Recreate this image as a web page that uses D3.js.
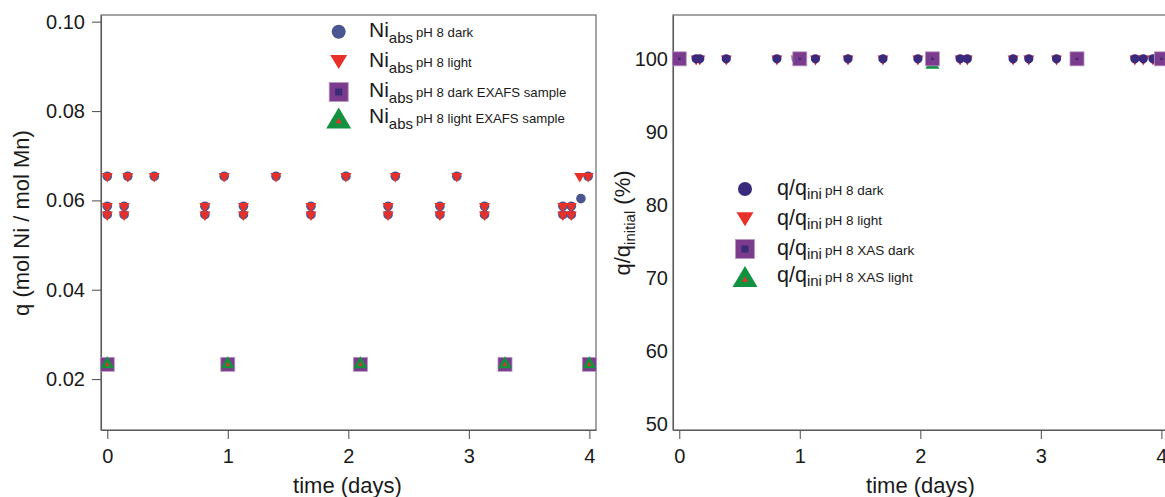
<!DOCTYPE html>
<html>
<head>
<meta charset="utf-8">
<script src="https://cdn.jsdelivr.net/npm/d3@7"></script>
<style>
  html, body { margin: 0; padding: 0; background: #fff; }
  svg { display: block; }
  text { font-family: "Liberation Sans", Arial, Helvetica, sans-serif; fill: #1a1a1a; }
</style>
</head>
<body>
<svg id="chart" width="1165" height="497"></svg>
<script>
// ---------------- DATA ----------------
// Left panel: Ni uptake q (mol Ni / mol Mn) vs time (days)
const darkTime  = [0, 0, 0, 0.14, 0.14, 0.17, 0.39, 0.81, 0.81, 0.97, 1.13, 1.13, 1.40, 1.69, 1.69, 1.98, 2.33, 2.33, 2.39, 2.76, 2.76, 2.90, 3.13, 3.13, 3.78, 3.78, 3.85, 3.85, 3.93, 3.99];
const darkQ     = [0.0654, 0.0587, 0.0568, 0.0587, 0.0568, 0.0654, 0.0654, 0.0587, 0.0568, 0.0654, 0.0587, 0.0568, 0.0654, 0.0587, 0.0568, 0.0654, 0.0587, 0.0568, 0.0654, 0.0587, 0.0568, 0.0654, 0.0587, 0.0568, 0.0587, 0.0568, 0.0587, 0.0568, 0.0604, 0.0654];
const lightTime = [0, 0, 0, 0.14, 0.14, 0.17, 0.39, 0.81, 0.81, 0.97, 1.13, 1.13, 1.40, 1.69, 1.69, 1.98, 2.33, 2.33, 2.39, 2.76, 2.76, 2.90, 3.13, 3.13, 3.78, 3.78, 3.85, 3.85, 3.92, 3.99];
const lightQ    = [0.0654, 0.0587, 0.0568, 0.0587, 0.0568, 0.0654, 0.0654, 0.0587, 0.0568, 0.0654, 0.0587, 0.0568, 0.0654, 0.0587, 0.0568, 0.0654, 0.0587, 0.0568, 0.0654, 0.0587, 0.0568, 0.0654, 0.0587, 0.0568, 0.0587, 0.0568, 0.0587, 0.0568, 0.0654, 0.0654];
const exafsTime   = [0, 1.0, 2.1, 3.3, 4.0];
const exafsDarkQ  = [0.0233, 0.0233, 0.0233, 0.0233, 0.0233];
const exafsLightQ = [0.0233, 0.0233, 0.0233, 0.0233, 0.0233];

// Right panel: q/q_initial (%) vs time (days)
const pctTime      = [0, 0.14, 0.17, 0.39, 0.81, 0.97, 1.13, 1.40, 1.69, 1.98, 2.33, 2.39, 2.77, 2.90, 3.13, 3.78, 3.85, 3.93, 3.99];
const pctDark      = [100, 100, 100, 100, 100, 100, 100, 100, 100, 100, 100, 100, 100, 100, 100, 100, 100, 100, 100];
const pctLight     = [100, 100, 100, 100, 100, 100, 100, 100, 100, 100, 100, 100, 100, 100, 100, 100, 100, 100, 100];
const xasTime      = [0, 1.0, 2.1, 3.3, 4.0];
const xasDarkPct   = [100, 100, 100, 100, 100];
const xasLightPct  = [100, 100, 99.45, 100, 100];

// Tick labels
const xTicks       = [0, 1, 2, 3, 4];
const leftYTicks   = [0.02, 0.04, 0.06, 0.08, 0.10];
const rightYTicks  = [50, 60, 70, 80, 90, 100];

// Legend labels
const leftLegendSub  = ["pH 8 dark", "pH 8 light", "pH 8 dark EXAFS sample", "pH 8 light EXAFS sample"];
const rightLegendSub = ["pH 8 dark", "pH 8 light", "pH 8 XAS dark", "pH 8 XAS light"];

// ---------------- STYLE ----------------
const C = {
  axis: "#5a5a5a",
  darkL: "#4b5690",
  darkR: "#3a2a7e",
  red: "#e8302a",
  purple: "#7b3c8d",
  purpleEdge: "#b896c4",
  inner: "#3a2c78",
  green: "#12923f"
};

const svg = d3.select("#chart");

// marker shape helpers (centred on centroid for triangles)
function triPath(w, h, down) {
  const hw = w / 2;
  if (down) return `M${-hw},${-h / 3}L${hw},${-h / 3}L0,${2 * h / 3}Z`;
  return `M0,${-2 * h / 3}L${hw},${h / 3}L${-hw},${h / 3}Z`;
}
function triBoxPath(w, h, down) {
  const hw = w / 2, hh = h / 2;
  if (down) return `M${-hw},${-hh}L${hw},${-hh}L0,${hh}Z`;
  return `M0,${-hh}L${hw},${hh}L${-hw},${hh}Z`;
}

function drawCircle(g, x, y, r, fill) {
  g.append("circle").attr("cx", x).attr("cy", y).attr("r", r).attr("fill", fill);
}
function drawDown(g, x, y, w, h, box) {
  g.append("path").attr("transform", `translate(${x},${y})`)
    .attr("d", box ? triBoxPath(w, h, true) : triPath(w, h, true)).attr("fill", C.red);
}
function drawSquare(g, x, y, s, inner) {
  g.append("rect").attr("x", x - s / 2).attr("y", y - s / 2).attr("width", s).attr("height", s)
    .attr("fill", C.purple).attr("stroke", C.purpleEdge).attr("stroke-width", 0.8);
  g.append("rect").attr("x", x - inner / 2).attr("y", y - inner / 2).attr("width", inner).attr("height", inner)
    .attr("fill", C.inner);
}
function drawUp(g, x, y, w, h, inner, box) {
  const t = g.append("g").attr("transform", `translate(${x},${y})`);
  t.append("path").attr("d", box ? triBoxPath(w, h, false) : triPath(w, h, false)).attr("fill", C.green);
  const cy = box ? h / 6 : 0;
  t.append("path").attr("transform", `translate(0,${cy})`).attr("d", triPath(inner, inner * 0.9, false)).attr("fill", C.red);
}

// ---------------- PANELS ----------------
const plotTop = 15, plotBottom = 430;
const L = { x0: 101, x1: 596 };
const R = { x0: 673, x1: 1168 };

const xL = d3.scaleLinear().domain([-0.052, 4.055]).range([L.x0, L.x1]);
const yL = d3.scaleLinear().domain([0.0086, 0.1015]).range([plotBottom, plotTop]);
const xR = d3.scaleLinear().domain([-0.052, 4.055]).range([R.x0, R.x1]);
const yR = d3.scaleLinear().domain([49.2, 106]).range([plotBottom, plotTop]);

function styleAxis(g, fs) {
  g.selectAll("path.domain").attr("stroke", C.axis).attr("stroke-width", 1.1);
  g.selectAll(".tick line").attr("stroke", C.axis).attr("stroke-width", 1.1);
  g.selectAll(".tick text").attr("font-size", fs).attr("fill", "#1a1a1a")
    .attr("font-family", '"Liberation Sans", Arial, Helvetica, sans-serif');
}

// Left frame
svg.append("rect").attr("x", L.x0).attr("y", plotTop).attr("width", L.x1 - L.x0).attr("height", plotBottom - plotTop)
  .attr("fill", "none").attr("stroke", C.axis).attr("stroke-width", 1.1);
// Right frame (right side falls off canvas)
svg.append("rect").attr("x", R.x0).attr("y", plotTop).attr("width", R.x1 - R.x0).attr("height", plotBottom - plotTop)
  .attr("fill", "none").attr("stroke", C.axis).attr("stroke-width", 1.1);

// Left axes
const gxL = svg.append("g").attr("transform", `translate(0,${plotBottom})`)
  .call(d3.axisBottom(xL).tickValues(xTicks).tickFormat(d3.format("d")).tickSize(9).tickPadding(10).tickSizeOuter(0));
styleAxis(gxL, 20);
const gyL = svg.append("g").attr("transform", `translate(${L.x0},0)`)
  .call(d3.axisLeft(yL).tickValues(leftYTicks).tickFormat(d3.format(".2f")).tickSize(9).tickPadding(7).tickSizeOuter(0));
styleAxis(gyL, 20);

// Right axes
const gxR = svg.append("g").attr("transform", `translate(0,${plotBottom})`)
  .call(d3.axisBottom(xR).tickValues(xTicks).tickFormat(d3.format("d")).tickSize(9).tickPadding(10).tickSizeOuter(0));
styleAxis(gxR, 20);
const gyR = svg.append("g").attr("transform", `translate(${R.x0},0)`)
  .call(d3.axisLeft(yR).tickValues(rightYTicks).tickFormat(d3.format("d")).tickSize(0).tickPadding(5).tickSizeOuter(0));
styleAxis(gyR, 20);

// Axis titles
svg.append("text").attr("x", (L.x0 + L.x1) / 2 - 1).attr("y", 493).attr("text-anchor", "middle")
  .attr("font-size", 22).text("time (days)");
svg.append("text").attr("x", (R.x0 + R.x1) / 2).attr("y", 493).attr("text-anchor", "middle")
  .attr("font-size", 22).text("time (days)");

svg.append("text").attr("transform", "translate(29,223) rotate(-90)").attr("text-anchor", "middle")
  .attr("font-size", 22).text("q (mol Ni / mol Mn)");

const yt = svg.append("text").attr("transform", "translate(630,223) rotate(-90)").attr("text-anchor", "middle")
  .attr("font-size", 22);
yt.append("tspan").text("q/q");
yt.append("tspan").attr("font-size", 15).attr("dy", 5).text("initial");
yt.append("tspan").attr("dy", -5).text(" (%)");

// ---------------- LEFT DATA ----------------
const gL = svg.append("g");
darkTime.forEach((t, i) => drawCircle(gL, xL(t), yL(darkQ[i]), 4.8, C.darkL));
lightTime.forEach((t, i) => drawDown(gL, xL(t), yL(lightQ[i]), 11, 9.5, false));
exafsTime.forEach((t, i) => drawSquare(gL, xL(t), yL(exafsDarkQ[i]), 14, 4));
exafsTime.forEach((t, i) => drawUp(gL, xL(t), yL(exafsLightQ[i]), 14, 12, 4.5, false));

// ---------------- RIGHT DATA ----------------
const gR = svg.append("g");
pctTime.forEach((t, i) => drawDown(gR, xR(t), yR(pctLight[i]), 11, 10, false));
pctTime.forEach((t, i) => drawCircle(gR, xR(t), yR(pctDark[i]), 4.6, C.darkR));
xasTime.forEach((t, i) => drawUp(gR, xR(t), yR(xasLightPct[i]), 14, 12, 4, true));
xasTime.forEach((t, i) => drawSquare(gR, xR(t), yR(xasDarkPct[i]), 14, 2.5));

// ---------------- LEGENDS ----------------
function legendMarker(g, k, x, y, darkColor) {
  if (k === 0) drawCircle(g, x, y, 7, darkColor);
  else if (k === 1) drawDown(g, x, y, 17, 14, true);
  else if (k === 2) drawSquare(g, x, y, 19, 7);
  else drawUp(g, x, y, 25, 21, 6, true);
}

const legL = svg.append("g");
const legLRows = [31.7, 62, 92, 118];
leftLegendSub.forEach((s, k) => {
  const y = legLRows[k];
  legendMarker(legL, k, 338.7, y, C.darkL);
  const tx = legL.append("text").attr("x", 369).attr("y", y + 5.2).attr("font-size", 21);
  tx.append("tspan").text("Ni");
  tx.append("tspan").attr("font-size", 15).attr("dy", 6).text("abs");
  tx.append("tspan").attr("font-size", 13.2).attr("dy", -6).attr("dx", 3).text(s);
});

const legR = svg.append("g");
const legRRows = [189, 219.3, 249, 276.5];
rightLegendSub.forEach((s, k) => {
  const y = legRRows[k];
  legendMarker(legR, k, 745, y, C.darkR);
  const tx = legR.append("text").attr("x", 777).attr("y", y + 5.5).attr("font-size", 21.5);
  tx.append("tspan").text("q/q");
  tx.append("tspan").attr("font-size", 15).attr("dy", 4).text("ini");
  tx.append("tspan").attr("font-size", 13.5).attr("dy", -4).attr("dx", 3).text(s);
});
</script>
</body>
</html>
